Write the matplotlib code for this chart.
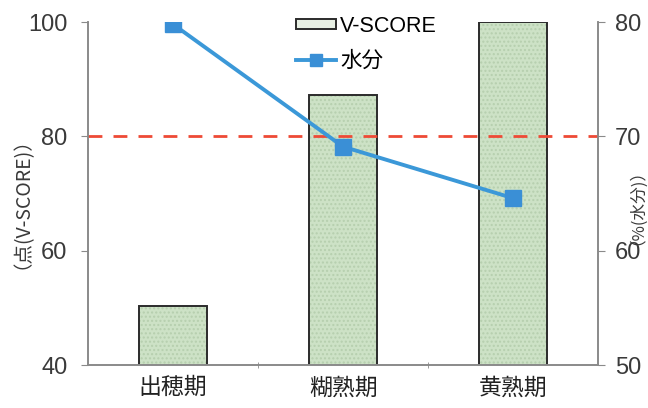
import matplotlib.pyplot as plt
import matplotlib.patches as patches
from matplotlib.lines import Line2D
import numpy as np

plt.rcParams['font.family'] = ['Liberation Sans', 'Noto Sans CJK JP', 'DejaVu Sans']

stages = ['出穂期', '糊熟期', '黄熟期']
vscore = [50.3, 87.2, 100.0]
moisture = [79.8, 69.1, 64.6]
ref_score = 80

fig = plt.figure(figsize=(6.48, 4.08), dpi=100)
ax = fig.add_axes([0.136, 0.105, 0.787, 0.841])
ax2 = ax.twinx()

x = np.arange(len(stages))
gray = '#8a8a8a'
text_col = '#3a3a3a'

# bars: faint dotted fill, then dark outline on top
ax.bar(x, vscore, width=0.4, bottom=0, color='#cde2c6', edgecolor='#b6cfae',
       hatch='....', linewidth=0, zorder=1)
ax.bar(x, vscore, width=0.4, bottom=0, fill=False, edgecolor='#2b2b2b',
       linewidth=1.4, zorder=2)
ax.axhline(ref_score, color='#ee4a36', linestyle=(0, (5, 4)), linewidth=2, zorder=3)

ax2.plot(x, moisture, color='#3b98d8', linewidth=2.8, marker='s', markersize=11,
         markerfacecolor='#3a8fd6', markeredgecolor='#3a8fd6', zorder=4)

ax.set_xlim(-0.5, 2.5)
ax.set_ylim(40, 100)
ax2.set_ylim(50, 80)
ax.set_yticks([40, 60, 80, 100])
ax2.set_yticks([50, 60, 70, 80])

ax.set_xticks(x)
ax.set_xticklabels(stages, fontsize=16.5, color='#222222', family=['Noto Sans CJK JP'])
ax.set_xticks([0.5, 1.5], minor=True)
ax.tick_params(axis='x', which='major', length=0, pad=8)
ax.tick_params(axis='x', which='minor', length=5, color=gray, direction='inout')
ax.tick_params(axis='y', length=5, color=gray, labelsize=17, labelcolor=text_col, pad=10)
ax2.tick_params(axis='y', length=5, color=gray, labelsize=17, labelcolor=text_col, pad=7)

for a in (ax, ax2):
    a.spines['top'].set_visible(False)
    for s in ('left', 'right', 'bottom'):
        a.spines[s].set_color(gray)
        a.spines[s].set_linewidth(1.2)

ax.set_ylabel('（点(V-SCORE)）', fontsize=14, color=text_col,
              family=['Noto Sans CJK JP'])
ax.yaxis.set_label_coords(-0.128, 0.5)
ax2.set_ylabel('（%(水分)）', fontsize=12, color=text_col, rotation=90,
               family=['Noto Sans CJK JP'])
ax2.yaxis.set_label_coords(1.043, 0.485)

ax.set_zorder(ax2.get_zorder() - 1)
ax.patch.set_visible(False)
ax2.patch.set_visible(False)

handles = [patches.Patch(facecolor='#e8f0e4', edgecolor='#2b2b2b', linewidth=1.4),
           Line2D([], [], color='#3b98d8', linewidth=2.8, marker='s', markersize=9,
                  markerfacecolor='#3a8fd6', markeredgecolor='#3a8fd6')]
ax2.legend(handles, ['V-SCORE', '水分'], loc='upper left', bbox_to_anchor=(0.37, 1.075),
           frameon=False, handlelength=1.85, handleheight=0.3,
           handletextpad=0.2, labelspacing=0.65,
           prop={'family': ['Liberation Sans', 'Noto Sans CJK JP'], 'size': 15.5})

fig.savefig('out.png', dpi=100)
